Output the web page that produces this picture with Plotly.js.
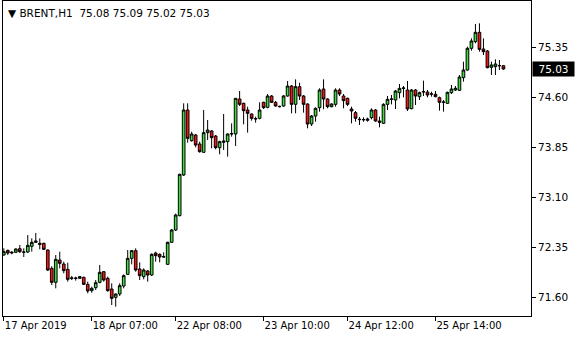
<!DOCTYPE html>
<html>
<head>
<meta charset="utf-8">
<script src="https://cdn.plot.ly/plotly-3.0.1.min.js"></script>
<style>html,body{margin:0;padding:0;background:#fff;}#chart{width:580px;height:340px;}</style>
</head>
<body>
<div id="chart"></div>
<script>
// BRENT, H1 — hourly OHLC
const symbol = 'BRENT,H1';
const openP = [72.24,72.31,72.27,72.28,72.335,72.28,72.285,72.37,72.43,72.415,72.415,72.315,72.04,71.83,72.165,72.105,72.025,71.89,71.895,71.89,71.905,71.80,71.705,71.75,71.83,71.99,71.89,71.73,71.605,71.655,71.775,71.95,72.19,72.305,72.03,71.915,72.00,71.94,72.27,72.25,72.215,72.10,72.43,72.615,72.83,73.44,74.415,73.955,74.04,73.905,73.78,74.075,74.10,74.025,73.85,73.93,73.94,74.055,74.055,74.58,74.515,74.415,74.355,74.28,74.29,74.53,74.455,74.625,74.53,74.47,74.475,74.625,74.775,74.50,74.765,74.625,74.505,74.205,74.325,74.45,74.73,74.58,74.465,74.50,74.715,74.625,74.59,74.43,74.375,74.27,74.27,74.26,74.30,74.415,74.25,74.215,74.50,74.575,74.565,74.675,74.74,74.715,74.435,74.715,74.615,74.685,74.685,74.655,74.65,74.60,74.53,74.515,74.675,74.715,74.71,74.90,75.015,75.34,75.44,75.58,75.33,75.30,75.055,75.065,75.08,75.08];
const highP = [72.34,72.32,72.30,72.34,72.39,72.34,72.54,72.49,72.57,72.49,72.425,72.325,72.07,72.24,72.29,72.14,72.125,71.925,71.915,71.92,71.915,71.84,71.765,71.865,72.09,72.00,71.915,71.815,71.665,71.815,71.95,72.315,72.315,72.34,72.13,72.04,72.015,72.265,72.29,72.265,72.28,72.44,72.63,72.86,73.46,74.515,74.515,74.09,74.055,73.94,74.415,74.265,74.115,74.04,73.955,74.355,74.065,74.215,74.59,74.70,74.525,74.465,74.365,74.315,74.53,74.54,74.655,74.64,74.55,74.48,74.64,74.85,74.79,74.875,74.825,74.64,74.515,74.34,74.455,74.74,74.875,74.59,74.515,74.74,74.74,74.655,74.60,74.465,74.40,74.31,74.305,74.30,74.44,74.43,74.315,74.515,74.625,74.64,74.715,74.805,74.775,74.85,74.73,74.73,74.69,74.855,74.715,74.69,74.70,74.615,74.565,74.69,74.79,74.775,74.94,75.14,75.365,75.49,75.705,75.715,75.49,75.315,75.14,75.175,75.165,75.09];
const lowP = [72.23,72.24,72.25,72.27,72.27,72.21,72.27,72.29,72.42,72.325,72.315,72.00,71.79,71.74,72.04,71.965,71.84,71.865,71.855,71.885,71.79,71.665,71.675,71.715,71.815,71.84,71.69,71.49,71.465,71.625,71.74,71.94,72.10,71.99,71.865,71.875,71.84,71.925,72.14,72.13,72.205,72.09,72.42,72.60,72.82,73.425,73.925,73.94,73.855,73.775,73.775,73.965,73.84,73.825,73.75,73.815,73.715,74.015,73.875,74.475,74.20,74.075,74.255,74.225,74.275,74.43,74.44,74.525,74.465,74.455,74.465,74.615,74.365,74.365,74.565,74.375,74.14,74.175,74.24,74.39,74.425,74.44,74.455,74.465,74.625,74.44,74.475,74.215,74.24,74.19,74.24,74.24,74.275,74.24,74.155,74.205,74.415,74.50,74.43,74.59,74.605,74.40,74.425,74.49,74.565,74.625,74.605,74.615,74.605,74.405,74.39,74.505,74.655,74.70,74.70,74.84,75.005,75.305,75.415,75.29,75.24,75.04,74.94,74.94,75.015,75.02];
const closeP = [72.29,72.27,72.28,72.33,72.29,72.285,72.385,72.43,72.45,72.40,72.325,72.015,71.83,72.175,72.115,72.005,71.875,71.895,71.89,71.915,71.80,71.70,71.74,71.825,71.98,71.865,71.705,71.59,71.655,71.78,71.93,72.19,72.305,72.015,71.93,72.015,71.94,72.25,72.23,72.21,72.21,72.43,72.615,72.84,73.45,74.415,73.99,74.055,73.89,73.79,74.075,74.115,74.00,73.85,73.94,73.95,74.055,74.06,74.59,74.50,74.405,74.365,74.29,74.285,74.415,74.45,74.625,74.53,74.475,74.465,74.625,74.775,74.50,74.765,74.625,74.50,74.205,74.325,74.44,74.715,74.58,74.465,74.505,74.715,74.655,74.555,74.50,74.40,74.29,74.275,74.27,74.28,74.415,74.25,74.23,74.50,74.575,74.58,74.70,74.74,74.745,74.43,74.715,74.625,74.675,74.69,74.64,74.655,74.615,74.53,74.535,74.68,74.73,74.74,74.91,75.015,75.34,75.45,75.58,75.325,75.29,75.05,75.09,75.105,75.08,75.03];

// time-axis labels and the bar they belong to
const tickLabels = ['17 Apr 2019','18 Apr 07:00','22 Apr 08:00','23 Apr 10:00','24 Apr 12:00','25 Apr 14:00'];
const tickBars = [0,22,43,65,86,108];
// price-axis labels
const priceTicks = [71.60,72.35,73.10,73.85,74.60,75.35];

const barIndex = openP.map((_, i) => i);
const last = openP.length - 1;
const fmt = v => v.toFixed(2);
const FONT = 'DejaVu Sans, sans-serif';

const trace = {
  type: 'candlestick',
  x: barIndex,
  open: openP, high: highP, low: lowP, close: closeP,
  increasing: {line: {color: '#000000', width: 1}, fillcolor: '#3ADF3A'},
  decreasing: {line: {color: '#000000', width: 1}, fillcolor: '#FF1010'},
  whiskerwidth: 0,
  hoverinfo: 'skip',
  showlegend: false
};

const layout = {
  width: 580, height: 340,
  margin: {l: 3, r: 49, t: 1, b: 24, pad: 0},
  paper_bgcolor: '#ffffff', plot_bgcolor: '#ffffff',
  showlegend: false,
  boxgap: 0.05,
  font: {family: FONT, size: 10, color: '#000000'},
  xaxis: {
    range: [-0.2, 131.9], rangeslider: {visible: false},
    showgrid: false, zeroline: false,
    showline: true, mirror: true, linecolor: '#000000', linewidth: 1,
    tickmode: 'array', tickvals: tickBars, ticktext: tickLabels,
    ticks: 'outside', ticklen: 4, tickcolor: '#000000', tickwidth: 1,
    ticklabelposition: 'outside right',
    tickfont: {family: FONT, size: 10, color: '#000000'},
    fixedrange: true
  },
  yaxis: {
    side: 'right', range: [71.325, 76.05],
    showgrid: false, zeroline: false,
    showline: true, mirror: true, linecolor: '#000000', linewidth: 1,
    tickmode: 'array', tickvals: priceTicks, ticktext: priceTicks.map(fmt),
    ticks: 'outside', ticklen: 4, tickcolor: '#000000', tickwidth: 1,
    tickfont: {family: FONT, size: 10.5, color: '#000000'},
    fixedrange: true
  },
  annotations: [
    {
      xref: 'paper', yref: 'paper', x: 0, y: 1, xanchor: 'left', yanchor: 'top',
      xshift: 3, yshift: -4, showarrow: false, align: 'left',
      text: '▼ ' + symbol + '  ' + [openP[last], highP[last], lowP[last], closeP[last]].map(fmt).join(' '),
      font: {family: FONT, size: 10.5, color: '#000000'}
    },
    {
      xref: 'paper', yref: 'y', x: 1, y: closeP[last], xanchor: 'left', yanchor: 'middle',
      xshift: 1, showarrow: false, text: fmt(closeP[last]),
      bgcolor: '#000000', borderpad: 1, width: 39,
      font: {family: FONT, size: 10.5, color: '#ffffff'}
    }
  ]
};

Plotly.newPlot('chart', [trace], layout, {staticPlot: true, displayModeBar: false});
</script>
</body>
</html>
